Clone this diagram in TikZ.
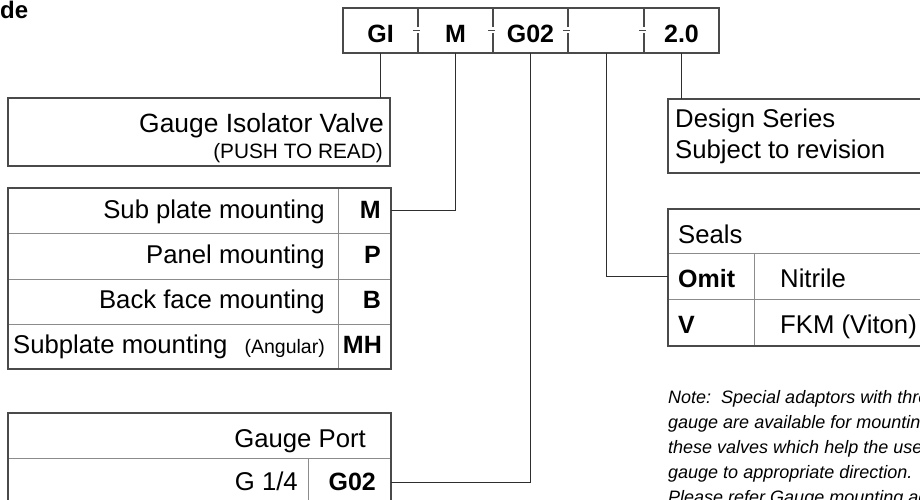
\documentclass[tikz,border=0pt]{standalone}
\usepackage{fontspec}
\setmainfont{Liberation Sans}
\definecolor{framegray}{HTML}{4A4A4A}
\definecolor{rowgray}{HTML}{8C8C8C}
\definecolor{conngray}{HTML}{2E2E2E}
\newcommand\fReg{\fontsize{25.7}{30}\selectfont}
\newcommand\fBig{\fontsize{26.4}{30}\selectfont}
\newcommand\fSml{\fontsize{19.5}{24}\selectfont}
\newcommand\fPush{\fontsize{20.8}{24}\selectfont}
\newcommand\fBld{\fontsize{25}{30}\selectfont\bfseries}
\newcommand\fNote{\fontsize{18}{25}\selectfont\itshape}
\newcommand\fTtl{\fontsize{24}{28}\selectfont\bfseries}
\begin{document}
\begin{tikzpicture}[x=1pt,y=-1pt,
  frame/.style={draw=framegray, line width=1.1pt},
  cellbox/.style={draw=rowgray, line width=0.8pt, inner sep=0pt, outer sep=0pt, anchor=north west},
  emptybox/.style={draw=none, inner sep=0pt, outer sep=0pt, anchor=north west},
  conn/.style={draw=conngray, line width=0.9pt},
  reg/.style={font=\fReg, inner sep=0pt},
  sml/.style={font=\fSml, inner sep=0pt},
  bld/.style={font=\fBld, inner sep=0pt},
  notetext/.style={font=\fNote, inner sep=0pt, anchor=base west}]
\clip (0,0) rectangle (920,499);
\fill[white] (0,0) rectangle (920,499);

% title fragment
\node[font=\fTtl, inner sep=0pt, anchor=base west] (ttl) at (0,18) {de};

% code box
\node[emptybox, minimum width=75, minimum height=45] (c1) at (343,8) {};
\node[emptybox, minimum width=75, minimum height=45] (c2) at (418,8) {};
\node[emptybox, minimum width=75, minimum height=45] (c3) at (493,8) {};
\node[emptybox, minimum width=76, minimum height=45] (c4) at (568,8) {};
\node[emptybox, minimum width=75, minimum height=45] (c5) at (644,8) {};
\draw[frame] (c1.north west) rectangle (c5.south east);
\foreach \c in {c1,c2,c3,c4}{
  \draw[frame] (\c.north east) -- ++(0,19);
  \draw[frame] (\c.south east) -- ++(0,-20);
  \draw[frame] ([xshift=-5pt]\c.east) -- ([xshift=1.5pt]\c.east);
}
\node[bld, anchor=base] (t1) at (c1.center |- 0,42) {GI};
\node[bld, anchor=base] (t2) at (c2.center |- 0,42) {M};
\node[bld, anchor=base] (t3) at (c3.center |- 0,42) {G02};
\node[bld, anchor=base] (t5) at (c5.center |- 0,42) {2.0};

% Gauge isolator valve
\node[cellbox, frame, minimum width=382, minimum height=68] (giv) at (8,98) {};
\node[font=\fBig, inner sep=0pt, anchor=base east] (givt) at (384,132) {Gauge Isolator Valve};
\node[font=\fPush, inner sep=0pt, anchor=base east] (givs) at (383,158) {(PUSH TO READ)};

% mounting table
\node[cellbox, minimum width=330, minimum height=45] (m1d) at (8,188) {};
\node[cellbox, minimum width=53, minimum height=45] (m1c) at (338,188) {};
\node[cellbox, minimum width=330, minimum height=46] (m2d) at (8,233) {};
\node[cellbox, minimum width=53, minimum height=46] (m2c) at (338,233) {};
\node[cellbox, minimum width=330, minimum height=45] (m3d) at (8,279) {};
\node[cellbox, minimum width=53, minimum height=45] (m3c) at (338,279) {};
\node[cellbox, minimum width=330, minimum height=45] (m4d) at (8,324) {};
\node[cellbox, minimum width=53, minimum height=45] (m4c) at (338,324) {};
\draw[frame] (m1d.north west) rectangle (m4c.south east);
\node[reg, anchor=base east] (m1t) at (325,218) {Sub plate mounting};
\node[reg, anchor=base east] (m2t) at (325,263) {Panel mounting};
\node[reg, anchor=base east] (m3t) at (325,308) {Back face mounting};
\node[reg, anchor=base west] (m4t) at (13,353) {Subplate mounting};
\node[sml, anchor=base east] (m4s) at (325,353) {(Angular)};
\node[bld, anchor=base east] (m1k) at (381,218) {M};
\node[bld, anchor=base east] (m2k) at (381,263) {P};
\node[bld, anchor=base east] (m3k) at (381,308) {B};
\node[bld, anchor=base east] (m4k) at (382,353) {MH};

% gauge port table
\node[cellbox, minimum width=383, minimum height=45] (gp) at (8,413) {};
\node[cellbox, minimum width=300, minimum height=48] (gd) at (8,458) {};
\node[cellbox, minimum width=83, minimum height=48] (gc) at (308,458) {};
\draw[frame] (gp.north west) rectangle (gc.south east);
\node[reg, anchor=base east] (gpt) at (366,447) {Gauge Port};
\node[reg, anchor=base east] (gdt) at (298,490) {G 1/4};
\node[bld, anchor=base east] (gct) at (376,490) {G02};

% design series
\node[cellbox, frame, minimum width=270, minimum height=74] (ds) at (668,99) {};
\node[reg, anchor=base west] (ds1) at (675,127) {Design Series};
\node[reg, anchor=base west] (ds2) at (675,158) {Subject to revision};

% seals table
\node[cellbox, minimum width=270, minimum height=44] (sh) at (668,209) {};
\node[cellbox, minimum width=86, minimum height=46] (so1) at (668,253) {};
\node[cellbox, minimum width=184, minimum height=46] (sn1) at (754,253) {};
\node[cellbox, minimum width=86, minimum height=47] (so2) at (668,299) {};
\node[cellbox, minimum width=184, minimum height=47] (sn2) at (754,299) {};
\draw[frame] (sh.north west) rectangle (sn2.south east);
\node[reg, anchor=base west] (sht) at (678,243) {Seals};
\node[bld, anchor=base west] (so1t) at (678,287) {Omit};
\node[reg, anchor=base west] (sn1t) at (780,287) {Nitrile};
\node[bld, anchor=base west] (so2t) at (678,333) {V};
\node[reg, anchor=base west] (sn2t) at (780,333) {FKM (Viton)};

% note
\node[notetext] (n1) at (668,403) {Note:\ \ Special adaptors with thre};
\node[notetext] (n2) at (668,428) {gauge are available for mounting};
\node[notetext] (n3) at (668,453) {these valves which help the user};
\node[notetext] (n4) at (668,478) {gauge to appropriate direction.};
\node[notetext] (n5) at (668,503) {Please refer Gauge mounting ad};

% connectors
\draw[conn] (c1.south) -- (c1.south |- giv.north);
\draw[conn] (c2.south) |- (m1c.east);
\draw[conn] (c3.south) |- (gc.east);
\draw[conn] (c4.south) |- (so1.west);
\draw[conn] (c5.south) -- (c5.south |- ds.north);
\end{tikzpicture}
\end{document}
